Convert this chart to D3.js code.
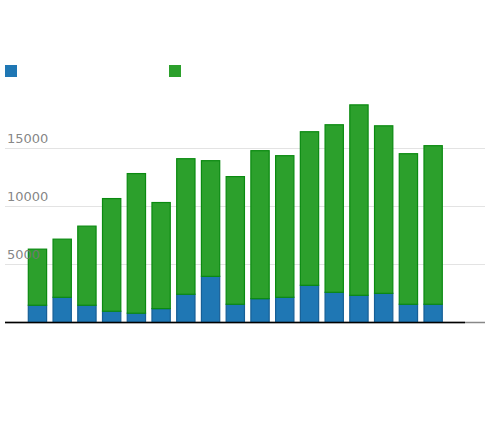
<!DOCTYPE html>
<html>
<head>
<meta charset="utf-8">
<script src="https://cdn.jsdelivr.net/npm/d3@7"></script>
<style>
  body { margin: 0; background: #fff; }
  svg { font-family: "DejaVu Sans", sans-serif; }
</style>
</head>
<body>
<div id="chart"></div>
<script>

// Chart size
const width = 490;
const height = 442;

// Data: bottom (blue) part and full stacked height
const categories = d3.range(1, 18).map(String);
const blueValues = [1475, 2160, 1475, 960, 790, 1185, 2420, 3960, 1560,
                    2040, 2160, 3190, 2590, 2330, 2500, 1560, 1560];
const totalValues = [6300, 7160, 8280, 10650, 12800, 10310, 14080, 13910, 12540,
                     14770, 14340, 16400, 17000, 18710, 16910, 14510, 15200];
const greenValues = totalValues.map((t, i) => t - blueValues[i]);
const yTicks = [5000, 10000, 15000];

const seriesNames = ["blue", "green"];
const seriesColors = {blue: "#1f77b4", green: "#2ca02c"};
const strokeColors = {blue: "#165f96", green: "#0a8a10"};

const svg = d3.select("#chart")
  .append("svg")
  .attr("width", width)
  .attr("height", height);

// Scales
const xScale = d3.scaleBand()
  .domain(categories)
  .range([25.1, 445.5])
  .paddingInner(0.26)
  .paddingOuter(0.13);

const yScale = d3.scaleLinear()
  .domain([0, 15000])
  .range([322.4, 148]);

// Gridlines
svg.append("g")
  .selectAll("line")
  .data([0].concat(yTicks))
  .enter()
  .append("line")
    .attr("x1", 5)
    .attr("x2", 485)
    .attr("y1", d => Math.round(yScale(d)) + 0.5)
    .attr("y2", d => Math.round(yScale(d)) + 0.5)
    .attr("stroke", d => d === 0 ? "#888" : "#e3e3e3")
    .attr("stroke-width", d => d === 0 ? 1.5 : 1);

// Stack the two series
const table = categories.map((c, i) => ({cat: c, blue: blueValues[i], green: greenValues[i]}));
const stacked = d3.stack().keys(seriesNames)(table);

svg.append("g")
  .selectAll("g")
  .data(stacked)
  .enter()
  .append("g")
    .attr("fill", d => seriesColors[d.key])
    .attr("stroke", d => strokeColors[d.key])
    .attr("stroke-width", 1.2)
  .selectAll("rect")
  .data(d => d)
  .enter()
  .append("rect")
    .attr("x", d => xScale(d.data.cat))
    .attr("y", d => yScale(d[1]))
    .attr("width", xScale.bandwidth())
    .attr("height", d => yScale(d[0]) - yScale(d[1]));

// Tick labels, drawn over the bars, sitting above their gridlines
svg.append("g")
  .selectAll("text")
  .data(yTicks)
  .enter()
  .append("text")
    .attr("x", 7)
    .attr("y", d => yScale(d) - 5.5)
    .attr("font-size", "13px")
    .attr("fill", "#777")
    .attr("fill-opacity", 0.9)
    .text(d => d);

// Bottom axis line
svg.append("line")
  .attr("x1", 5)
  .attr("x2", 465)
  .attr("y1", yScale(0))
  .attr("y2", yScale(0))
  .attr("stroke", "#000")
  .attr("stroke-width", 1.5);

// Legend: coloured squares only
const legendX = {blue: 5, green: 169};
svg.append("g")
  .selectAll("rect")
  .data(seriesNames)
  .enter()
  .append("rect")
    .attr("x", d => legendX[d])
    .attr("y", 65)
    .attr("width", 12)
    .attr("height", 12)
    .attr("fill", d => seriesColors[d]);

</script>
</body>
</html>
